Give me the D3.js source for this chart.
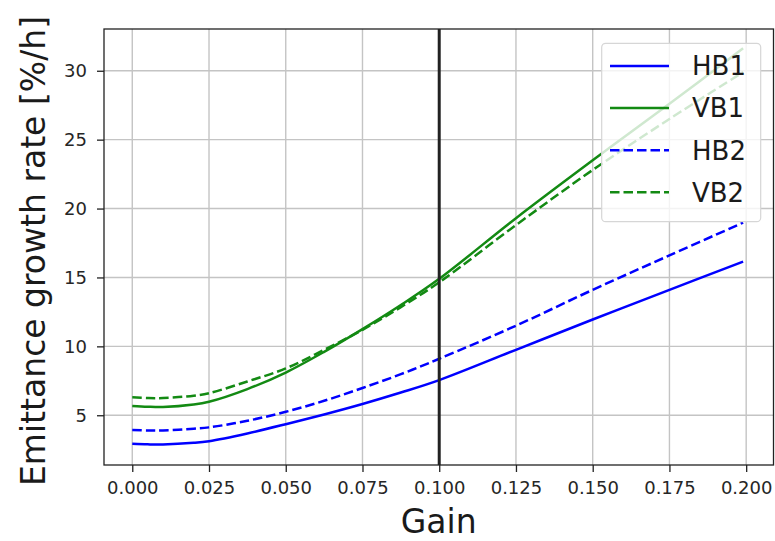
<!DOCTYPE html>
<html>
<head>
<meta charset="utf-8">
<script src="https://cdn.jsdelivr.net/npm/d3@7"></script>
<style>
  html, body { margin: 0; padding: 0; background: #fff; }
  svg { display: block; font-family: "DejaVu Sans", sans-serif; }
</style>
</head>
<body>
<svg id="chart" width="775" height="541"></svg>
<script>
// Emittance growth rate versus feedback gain
const gain = [0, 0.005, 0.01, 0.02, 0.025, 0.0375, 0.05, 0.0625, 0.075, 0.0875, 0.1, 0.125, 0.15, 0.175, 0.199];
const hb1  = [2.93, 2.89, 2.88, 3.0, 3.12, 3.68, 4.35, 5.06, 5.82, 6.65, 7.55, 9.75, 11.95, 14.1, 16.15];
const vb1  = [5.68, 5.62, 5.6, 5.78, 5.98, 6.9, 8.1, 9.6, 11.25, 13.0, 14.9, 19.3, 23.5, 27.6, 31.63];
const hb2  = [3.93, 3.9, 3.9, 4.02, 4.12, 4.6, 5.25, 6.05, 6.98, 7.98, 9.1, 11.5, 14.1, 16.6, 18.98];
const vb2  = [6.3, 6.25, 6.25, 6.42, 6.6, 7.45, 8.4, 9.75, 11.2, 12.85, 14.65, 18.8, 22.8, 26.5, 29.9];

const seriesNames = ["HB1", "VB1", "HB2", "VB2"];
const xTicks = [0, 0.025, 0.05, 0.075, 0.1, 0.125, 0.15, 0.175, 0.2];
const yTicks = [5, 10, 15, 20, 25, 30];
const markerGain = 0.1;

const blue = "#0000ff", green = "#138a13";
const series = [
  { name: seriesNames[0], values: hb1, color: blue, dash: null },
  { name: seriesNames[1], values: vb1, color: green, dash: null },
  { name: seriesNames[2], values: hb2, color: blue, dash: "9.5,4" },
  { name: seriesNames[3], values: vb2, color: green, dash: "9.5,4" }
];

const svg = d3.select("#chart");
const plot = { left: 104, right: 773.5, top: 29, bottom: 465 };

const x = d3.scaleLinear().domain([-0.00921, 0.2089]).range([plot.left, plot.right]);
const y = d3.scaleLinear().domain([1.39, 33.03]).range([plot.bottom, plot.top]);

svg.append("defs").append("clipPath").attr("id", "plotClip")
  .append("rect")
  .attr("x", plot.left).attr("y", plot.top)
  .attr("width", plot.right - plot.left).attr("height", plot.bottom - plot.top);

// grid
const grid = svg.append("g").attr("stroke", "#c4c4c4").attr("stroke-width", 1.4);
grid.selectAll("line.gx").data(xTicks).join("line")
  .attr("x1", d => x(d)).attr("x2", d => x(d))
  .attr("y1", plot.top).attr("y2", plot.bottom);
grid.selectAll("line.gy").data(yTicks).join("line")
  .attr("x1", plot.left).attr("x2", plot.right)
  .attr("y1", d => y(d)).attr("y2", d => y(d));

// curves
const line = d3.line()
  .x((d, i) => x(gain[i]))
  .y(d => y(d))
  .curve(d3.curveCatmullRom.alpha(0.5));

const curves = svg.append("g").attr("clip-path", "url(#plotClip)");
curves.selectAll("path").data(series).join("path")
  .attr("d", d => line(d.values))
  .attr("fill", "none")
  .attr("stroke", d => d.color)
  .attr("stroke-width", 2.5)
  .attr("stroke-dasharray", d => d.dash);

// vertical marker at the chosen gain
svg.append("line")
  .attr("x1", x(markerGain)).attr("x2", x(markerGain))
  .attr("y1", plot.top).attr("y2", plot.bottom)
  .attr("stroke", "#222").attr("stroke-width", 3);

// axes
const xAxis = svg.append("g")
  .attr("transform", `translate(0,${plot.bottom})`)
  .call(d3.axisBottom(x).tickValues(xTicks).tickFormat(d3.format(".3f")).tickSize(7).tickPadding(9).tickSizeOuter(0));
const yAxis = svg.append("g")
  .attr("transform", `translate(${plot.left},0)`)
  .call(d3.axisLeft(y).tickValues(yTicks).tickSize(7).tickPadding(10).tickSizeOuter(0));

[xAxis, yAxis].forEach(g => {
  g.select(".domain").remove();
  g.selectAll(".tick line").attr("stroke", "#222").attr("stroke-width", 1.3);
  g.selectAll(".tick text").attr("fill", "#262626").attr("font-size", 18)
    .attr("font-family", "DejaVu Sans");
});

// frame
svg.append("rect")
  .attr("x", plot.left).attr("y", plot.top)
  .attr("width", plot.right - plot.left).attr("height", plot.bottom - plot.top)
  .attr("fill", "none").attr("stroke", "#222").attr("stroke-width", 1.3);

// axis titles
svg.append("text")
  .attr("x", (plot.left + plot.right) / 2).attr("y", 533)
  .attr("text-anchor", "middle").attr("font-size", 33).attr("fill", "#1a1a1a")
  .text("Gain");
svg.append("text")
  .attr("transform", `translate(33,${(plot.top + plot.bottom) / 2 + 4}) rotate(-90)`)
  .attr("text-anchor", "middle").attr("dy", "0.35em")
  .attr("font-size", 33).attr("fill", "#1a1a1a")
  .text("Emittance growth rate [%/h]");

// legend
const legend = svg.append("g");
legend.append("rect")
  .attr("x", 601.7).attr("y", 43.3).attr("width", 159).attr("height", 178.4)
  .attr("rx", 4).attr("fill", "#fff").attr("fill-opacity", 0.8)
  .attr("stroke", "#d6d6d6").attr("stroke-width", 1.2);
const rowY = i => 66 + i * 42.1;
const items = legend.selectAll("g.item").data(series).join("g").attr("class", "item");
items.append("line")
  .attr("x1", 610).attr("x2", 669)
  .attr("y1", (d, i) => rowY(i)).attr("y2", (d, i) => rowY(i))
  .attr("stroke", d => d.color).attr("stroke-width", 2.5)
  .attr("stroke-dasharray", d => d.dash);
items.append("text")
  .attr("x", 692).attr("y", (d, i) => rowY(i)).attr("dy", "0.36em")
  .attr("font-size", 26).attr("fill", "#1a1a1a")
  .text(d => d.name);
</script>
</body>
</html>
